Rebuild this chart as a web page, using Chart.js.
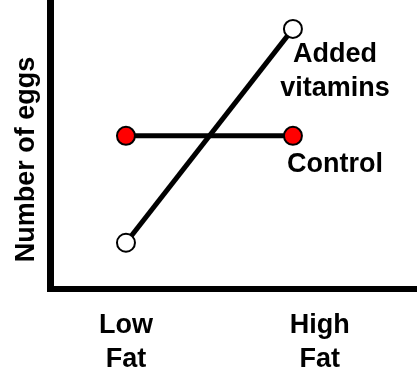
<!DOCTYPE html>
<html>
<head>
<meta charset="utf-8">
<script src="https://cdn.jsdelivr.net/npm/chart.js@4"></script>
<style>
  html, body { margin: 0; padding: 0; background: #fff; }
  #wrap { width: 417px; height: 388px; }
</style>
</head>
<body>
<div id="wrap"><canvas id="eggs-chart"></canvas></div>
<script>
// diet groups on the x axis, tick text and where the tick text sits
const categories = ['Low Fat', 'High Fat'];
const tickLabels = [['Low', 'Fat'], ['High', 'Fat']];
const tickValues = [0, 1.16];

// series (number of eggs, no units on the original)
const seriesNames = [['Added', 'vitamins'], ['Control']];
const addedVitamins = [1.6, 9.0];
const control = [5.3, 5.3];

const FONT = '"Liberation Sans", Arial, Helvetica, sans-serif';

// text next to the end of each line
const seriesLabels = {
  id: 'seriesLabels',
  afterDatasetsDraw(chart) {
    const ctx = chart.ctx;
    ctx.save();
    ctx.font = 'bold 27px ' + FONT;
    ctx.fillStyle = '#000';
    ctx.textAlign = 'center';
    ctx.textBaseline = 'middle';
    chart.data.datasets.forEach((ds, i) => {
      const pts = chart.getDatasetMeta(i).data;
      const last = pts[pts.length - 1];
      ds.labelLines.forEach((line, j) => {
        ctx.fillText(line, last.x + 42, last.y + ds.labelDy + j * 34);
      });
    });
    ctx.restore();
  }
};

const ctx = document.getElementById('eggs-chart').getContext('2d');
new Chart(ctx, {
  type: 'line',
  data: {
    datasets: [
      {
        label: 'Added vitamins',
        labelLines: seriesNames[0],
        labelDy: 26,
        data: addedVitamins.map((v, i) => ({ x: i, y: v })),
        borderColor: '#000',
        borderWidth: 5,
        pointRadius: 9,
        pointBorderWidth: 2,
        pointBackgroundColor: '#fff',
        pointBorderColor: '#000'
      },
      {
        label: 'Control',
        labelLines: seriesNames[1],
        labelDy: 29,
        data: control.map((v, i) => ({ x: i, y: v })),
        borderColor: '#000',
        borderWidth: 5,
        pointRadius: 9,
        pointBorderWidth: 2,
        pointBackgroundColor: '#ff0000',
        pointBorderColor: '#000'
      }
    ]
  },
  options: {
    responsive: true,
    maintainAspectRatio: false,
    animation: false,
    layout: { padding: 0, autoPadding: false },
    plugins: {
      legend: { display: false },
      tooltip: { enabled: false }
    },
    scales: {
      x: {
        type: 'linear',
        min: -0.455,
        max: 1.743,
        grid: { display: false, drawTicks: false },
        border: { display: true, color: '#000', width: 6 },
        afterBuildTicks: (scale) => {
          scale.ticks = tickValues.map(v => ({ value: v }));
        },
        afterFit: (scale) => { scale.height = 99; },
        ticks: {
          color: '#000',
          padding: 20,
          maxRotation: 0,
          font: { family: FONT, size: 27, weight: 'bold', lineHeight: 1.26 },
          callback: (value) => tickLabels[tickValues.indexOf(value)]
        }
      },
      y: {
        min: 0,
        max: 10,
        grid: { display: false, drawTicks: false },
        border: { display: true, color: '#000', width: 7 },
        ticks: { display: false },
        afterFit: (scale) => { scale.width = 50; },
        title: {
          display: true,
          // trailing spaces push the centred title a little lower, as in the original
          text: 'Number of eggs    ',
          color: '#000',
          padding: { top: 10, bottom: 0 },
          font: { family: FONT, size: 27, weight: 'bold' }
        }
      }
    }
  },
  plugins: [seriesLabels]
});
</script>
</body>
</html>
